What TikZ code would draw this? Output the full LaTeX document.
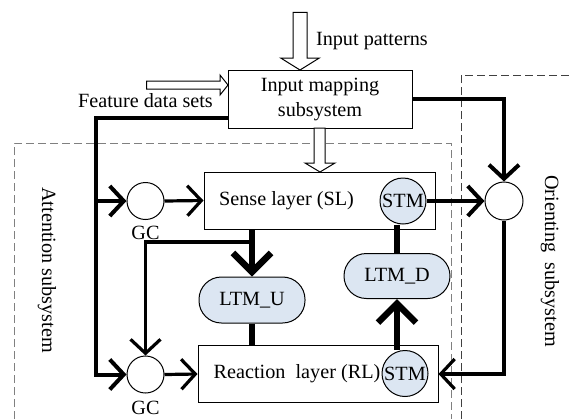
\documentclass[tikz,border=0pt]{standalone}
\usepackage{fontspec}
\setmainfont{Liberation Serif}
\usetikzlibrary{arrows.meta}
\definecolor{ltmfill}{RGB}{220,230,242}
\begin{document}
\begin{tikzpicture}[x=0.5pt,y=-0.5pt, font=\fontsize{10.1}{12.5}\selectfont,
 box/.style={draw, line width=0.5pt, inner sep=0pt},
 dot/.style={draw, circle, line width=0.5pt, inner sep=0pt, fill=white, minimum size=18.5pt},
 stmc/.style={draw, circle, line width=0.5pt, inner sep=0pt, minimum size=23pt, fill=ltmfill},
 ltm/.style={draw, rounded corners=11.2pt, line width=0.5pt, fill=ltmfill, minimum width=53pt, minimum height=22.5pt, inner sep=0pt},
 hollow/.style={draw, line width=0.5pt, fill=white},
 thickln/.style={line width=2pt},
 midln/.style={line width=1.6pt},
 bigln/.style={line width=3.2pt},
 barb/.style={-{Straight Barb[length=7pt,width=15pt]}},
 bigbarb/.style={-{Straight Barb[length=9.5pt,width=19pt]}},
 dashbox/.style={dash pattern=on 4pt off 2pt, line width=0.5pt}
]
\useasboundingbox (0,0) rectangle (572,419);

% dashed subsystem boxes
\draw[dashbox, gray] (14,419) -- (14,143) -- (451,143) -- (451,419);
\draw[dashbox, black!75] (461,419) -- (461,75) -- (572,75);

% main boxes
\node[box, minimum width=92pt, minimum height=29pt, align=center] (inmap) at (320,99) {Input mapping\\subsystem};
\node[box, minimum width=115.5pt, minimum height=28.5pt] (sense) at (319.5,200.5) {};
\node (sensetext) at (286.5,201) {Sense layer (SL)};
\node[box, minimum width=120pt, minimum height=28.5pt] (react) at (318,374) {};
\node (reacttext) at (297,374) {Reaction\ \ layer (RL)};

\node[stmc] (stm1) at (403,201) {STM};
\node[stmc] (stm2) at (405,373.5) {STM};
\node[dot] (gc1) at (145.5,201) {};
\node[dot] (gc2) at (145.5,374.5) {};
\node[dot, minimum size=19pt] (orient) at (504,201) {};
\node[ltm, minimum height=23pt] (ltmu) at (252,300) {LTM\_U};
\node[ltm] (ltmd) at (397,276) {LTM\_D};

% labels
\node (gc1lab) at (145.5,233) {GC};
\node (gc2lab) at (145.5,408) {GC};
\node[anchor=west] (iplab) at (309,41) {Input patterns};
\node (fdlab) at (145.5,101) {Feature data sets};
\node[rotate=-90] (attlab) at (47,270) {Attention subsystem};
\node[rotate=-90] (orlab) at (550,261) {Orienting\ \ subsystem};

% hollow arrows
\draw[hollow] (293,12.3) -- (307,12.3) -- (307,58) -- (319.3,58) -- (300,70) -- (280.7,58) -- (293,58) -- cycle;
\draw[hollow] (146.7,81) -- (220,81) -- (220,75) -- (228,85) -- (220,95) -- (220,89) -- (146.7,89) -- cycle;
\draw[hollow] (314,128) -- (325,128) -- (325,163) -- (335,163) -- (320,172) -- (305,163) -- (314,163) -- cycle;

% connectors
\coordinate (fl) at (96,118);
\draw[thickln, barb] (inmap.west |- fl) -- (fl) -- (fl |- gc2) -- (gc2.west);
\draw[thickln, barb] (fl |- gc1) -- (gc1.west);
\coordinate (orc) at (504,99);
\draw[thickln, barb] (inmap.east |- orc) -- (orc) -- (orient.north);
\draw[midln, barb] (gc1.east) -- (sense.west);
\draw[midln, barb] (gc2.east) -- (react.west);
\draw[thickln, barb] (stm1.east) -- (orient.west);
\draw[midln, barb] (orient.south) -- (orient.south |- react.east) -- (react.east);
\draw[bigln, bigbarb] (ltmu.north |- sense.south) -- (ltmu.north);
\coordinate (br) at (252,242);
\draw[midln, barb] (br) -- (gc2 |- br) -- (gc2.north);
\draw[bigln] (ltmu.south) -- (ltmu.south |- react.north);
\draw[bigln] (ltmd.north |- stm1.south) -- (ltmd.north);
\draw[bigln, bigbarb] (ltmd.south |- stm2.north) -- (ltmd.south);
\end{tikzpicture}
\end{document}
